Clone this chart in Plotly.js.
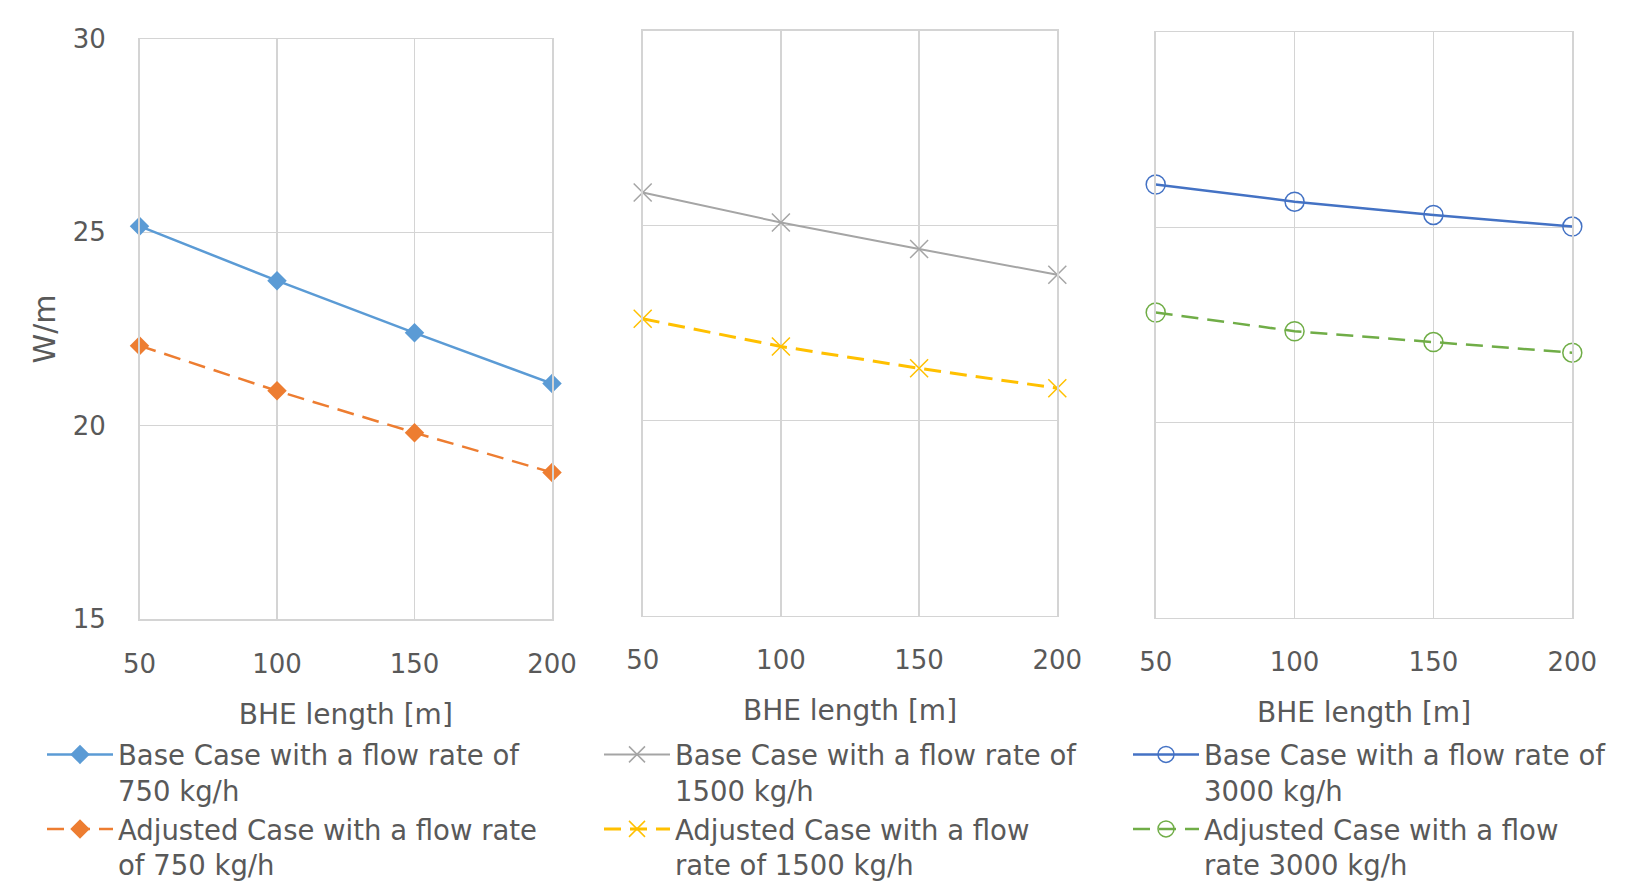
<!DOCTYPE html>
<html>
<head>
<meta charset="utf-8">
<script src="https://cdn.plot.ly/plotly-3.0.1.min.js"></script>
<style>
html,body{margin:0;padding:0;background:#fff;}
#chart{width:1647px;height:889px;}
</style>
</head>
<body>
<div id="chart"></div>
<script>
// ---- Data ----
const bheLength = [50, 100, 150, 200];
const xTickVals = [50, 100, 150, 200];
const yTickVals = [15, 20, 25, 30];

const base750  = [25.16, 23.75, 22.40, 21.09];
const adj750   = [22.07, 20.90, 19.82, 18.79];
const base1500 = [25.85, 25.08, 24.40, 23.74];
const adj1500  = [22.61, 21.90, 21.34, 20.83];
const base3000 = [26.10, 25.66, 25.32, 25.02];
const adj3000  = [22.82, 22.34, 22.06, 21.79];

const seriesNames = [
  "Base Case with a flow rate of<br>750 kg/h",
  "Adjusted Case with a flow rate<br>of 750 kg/h",
  "Base Case with a flow rate of<br>1500 kg/h",
  "Adjusted Case with a flow<br>rate of 1500 kg/h",
  "Base Case with a flow rate of<br>3000 kg/h",
  "Adjusted Case with a flow<br>rate 3000 kg/h"
];
const yTitle = "W/m";
const xTitle = "BHE length [m]";

// ---- Styling ----
const W = 1647, H = 889;
const FONT = "DejaVu Sans";
const TXT = "#595959";
const GRID = "#d4d4d4";

function mk(y, name, color, dash, symbol, msize, lw, xa, ya, leg, fillMarker) {
  return {
    x: bheLength, y: y, name: name, type: "scatter", mode: "lines+markers",
    xaxis: xa, yaxis: ya, legend: leg, cliponaxis: false,
    line: {color: color, width: lw, dash: dash},
    marker: fillMarker
      ? {symbol: symbol, size: msize, color: color, line: {width: 0}}
      : {symbol: symbol, size: msize, color: color, line: {color: color, width: 1.5}}
  };
}

const traces = [
  mk(base750,  seriesNames[0], "#5B9BD5", "solid", "diamond", 15, 2.5, "x",  "y",  "legend",  true),
  mk(adj750,   seriesNames[1], "#ED7D31", "17px,9px", "diamond", 15, 2.5, "x",  "y",  "legend",  true),
  mk(base1500, seriesNames[2], "#A5A5A5", "solid", "x-thin-open", 18, 2, "x2", "y2", "legend2", false),
  mk(adj1500,  seriesNames[3], "#FFC000", "17px,9px", "x-thin-open", 18, 3, "x2", "y2", "legend2", false),
  mk(base3000, seriesNames[4], "#4472C4", "solid", "circle-open", 19, 2.5, "x3", "y3", "legend3", false),
  mk(adj3000,  seriesNames[5], "#70AD47", "17px,9px", "circle-open", 19, 2.5, "x3", "y3", "legend3", false)
];

function xax(dom, anchor) {
  return {
    domain: dom, anchor: anchor, range: [50, 200], tickvals: xTickVals,
    showgrid: true, gridcolor: GRID, gridwidth: 1.5,
    showline: true, linecolor: GRID, linewidth: 1.5, mirror: true,
    zeroline: false, ticks: "outside", ticklen: 21, tickcolor: "rgba(0,0,0,0)",
    tickfont: {family: FONT, size: 26, color: TXT},
    title: {text: xTitle, font: {family: FONT, size: 28, color: TXT}, standoff: 26},
    automargin: false
  };
}
function yax(dom, anchor, labels) {
  const a = {
    domain: dom, anchor: anchor, range: [15, 30], tickvals: yTickVals,
    showgrid: true, gridcolor: GRID, gridwidth: 1.5,
    showline: true, linecolor: GRID, linewidth: 1.5, mirror: true,
    zeroline: false, showticklabels: labels,
    ticks: labels ? "outside" : "", ticklen: 27, tickcolor: "rgba(0,0,0,0)",
    tickfont: {family: FONT, size: 26, color: TXT},
    automargin: false
  };
  if (labels) a.title = {text: yTitle, font: {family: FONT, size: 30, color: TXT}, standoff: 8};
  return a;
}

function leg(xpx) {
  return {
    x: xpx / W, xanchor: "left", y: 0, yanchor: "bottom",
    font: {family: FONT, size: 27.5, color: TXT},
    bgcolor: "rgba(0,0,0,0)", borderwidth: 0, valign: "top",
    itemwidth: 66, tracegroupgap: 0, orientation: "v"
  };
}

const layout = {
  width: W, height: H,
  margin: {l: 0, r: 0, t: 0, b: 0},
  paper_bgcolor: "#ffffff", plot_bgcolor: "#ffffff",
  font: {family: FONT, color: TXT},
  showlegend: true,
  xaxis:  xax([139.5 / W, 552 / W], "y"),
  xaxis2: xax([642.7 / W, 1057.3 / W], "y2"),
  xaxis3: xax([1155.7 / W, 1572.3 / W], "y3"),
  yaxis:  yax([1 - 619 / H, 1 - 39 / H], "x", true),
  yaxis2: yax([1 - 615.5 / H, 1 - 30.7 / H], "x2", false),
  yaxis3: yax([1 - 617.6 / H, 1 - 32.3 / H], "x3", false),
  legend:  leg(42),
  legend2: leg(599),
  legend3: leg(1128)
};

Plotly.newPlot("chart", traces, layout, {staticPlot: true, displayModeBar: false});
</script>
</body>
</html>
